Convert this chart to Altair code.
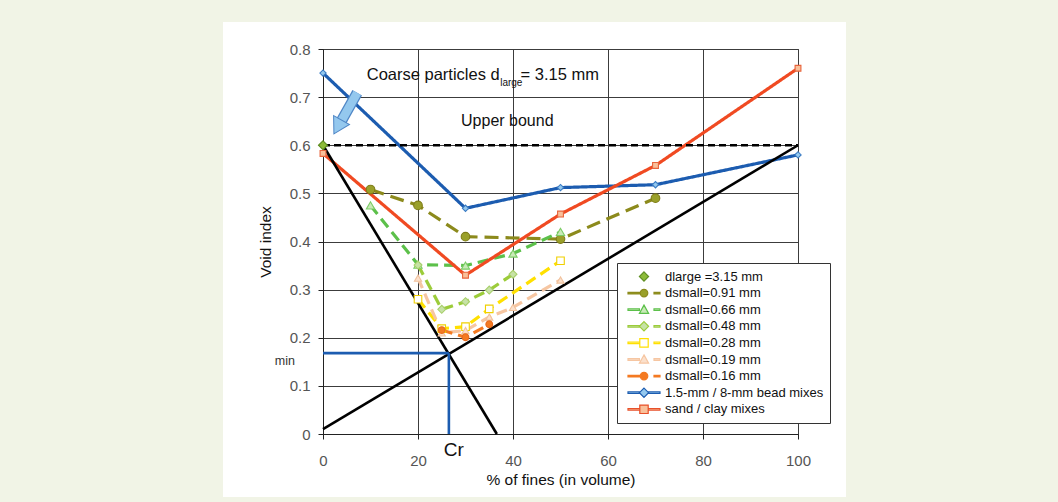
import altair as alt
import pandas as pd

# ---- series (x = % of fines, y = void index) ----
names = [
    "dlarge =3.15 mm",
    "dsmall=0.91 mm",
    "dsmall=0.66 mm",
    "dsmall=0.48 mm",
    "dsmall=0.28 mm",
    "dsmall=0.19 mm",
    "dsmall=0.16 mm",
    "1.5-mm / 8-mm bead mixes",
    "sand / clay mixes",
]

x_dlarge = [0]
y_dlarge = [0.6]
x_091 = [10, 20, 30, 50, 70]
y_091 = [0.508, 0.475, 0.41, 0.405, 0.49]
x_066 = [10, 20, 30, 40, 50]
y_066 = [0.475, 0.352, 0.35, 0.375, 0.42]
x_048 = [20, 25, 30, 35, 40]
y_048 = [0.351, 0.259, 0.275, 0.299, 0.332]
x_028 = [20, 25, 30, 35, 50]
y_028 = [0.28, 0.219, 0.223, 0.26, 0.36]
x_019 = [20, 25, 30, 35, 40, 50]
y_019 = [0.324, 0.21, 0.215, 0.243, 0.263, 0.32]
x_016 = [25, 30, 35]
y_016 = [0.216, 0.201, 0.228]
x_bead = [0, 30, 50, 70, 100]
y_bead = [0.75, 0.469, 0.512, 0.518, 0.58]
x_sand = [0, 30, 50, 70, 100]
y_sand = [0.583, 0.33, 0.457, 0.558, 0.76]

xs = [x_dlarge, x_091, x_066, x_048, x_028, x_019, x_016, x_bead, x_sand]
ys = [y_dlarge, y_091, y_066, y_048, y_028, y_019, y_016, y_bead, y_sand]

# construction lines
upper_bound = 0.6
coarse_x = [0, 36.6]
coarse_y = [0.6, 0.0]
fine_x = [0, 100]
fine_y = [0.01, 0.6]
cr_x = 26.5
e_min = 0.168

# block arrow pointing at the coarse-particle void index
arrow_x = [7.2, 3.9]
arrow_y = [0.709, 0.651]
arrow_head = (3.1, 0.638)

rows = []
for n, xv, yv in zip(names, xs, ys):
    for k, (a, b) in enumerate(zip(xv, yv)):
        rows.append({"series": n, "x": a, "y": b, "i": k})
pts = pd.DataFrame(rows)

dashed_names = names[1:7]
solid_names = names[7:]

# ---- styling ----
line_colors = ["#6aa12a", "#8c8a1c", "#5cc04a", "#9ccc3a", "#ffe000",
               "#f6c6a2", "#f47a22", "#1c5cb0", "#f04a22"]
dash_styles = [[1, 0], [14, 7], [11, 6], [11, 6], [11, 6],
               [11, 6], [11, 6], [1, 0], [1, 0]]
marker_shapes = ["diamond", "circle", "triangle-up", "diamond", "square",
                 "triangle-up", "circle", "diamond", "square"]
marker_fill = ["#8dbb3a", "#9aa02a", "#c9eab8", "#c7e2a6", "#ffffff",
               "#fbe0cc", "#f47a22", "#94c8ee", "#f9c09a"]
marker_stroke = ["#5f8f22", "#7f7d18", "#7ccc66", "#a7cf6a", "#f0d000",
                 "#f1c29d", "#e8681a", "#3b7cc4", "#e8643c"]
marker_size = [80, 34, 55, 55, 60, 55, 45, 50, 90]

# legend symbols: custom paths drawn in pixels, scaled to the symbol unit
SYM = 6.5  # half of sqrt(symbolSize)


def poly(*pairs):
    return "M" + "L".join(f"{a / SYM:.3f},{b / SYM:.3f}" for a, b in pairs) + "Z"


def bar(x0, x1, h=0.8):
    return poly((x0, -h), (x1, -h), (x1, h), (x0, h))


def circle(cx, r=3.8):
    a, b, rr = (cx + r) / SYM, (cx - r) / SYM, r / SYM
    return (f"M{a:.3f},0A{rr:.3f},{rr:.3f},0,1,1,{b:.3f},0"
            f"A{rr:.3f},{rr:.3f},0,1,1,{a:.3f},0Z")


def diamond(cx, r=4.6):
    return poly((cx, -r), (cx + r, 0), (cx, r), (cx - r, 0))


def square(cx, r=4.2):
    return poly((cx - r, -r), (cx + r, -r), (cx + r, r), (cx - r, r))


def triangle(cx, r=4.6):
    return poly((cx, -r), (cx + r, 0.8 * r), (cx - r, 0.8 * r))


MC = 13.5          # marker centre within the symbol
L0, L1 = -2.5, 29.5  # line extent
D0 = 23.5          # start of trailing dash

legend_shapes = [
    diamond(MC),
    bar(L0, MC - 3.8) + circle(MC) + bar(D0, L1),
    bar(L0, MC - 4.6) + triangle(MC) + bar(D0, L1),
    bar(L0, MC - 4.6) + diamond(MC) + bar(D0, L1),
    bar(L0, MC - 4.2) + square(MC) + bar(D0, L1),
    bar(L0, MC - 4.6) + triangle(MC) + bar(D0, L1),
    bar(L0, MC - 3.8) + circle(MC) + bar(D0, L1),
    bar(L0, MC - 4.6) + diamond(MC) + bar(MC + 4.6, L1),
    bar(L0, MC - 4.2) + square(MC) + bar(MC + 4.2, L1),
]
legend_stroke = ["#5f8f22", "#8c8a1c", "#5cc04a", "#9ccc3a", "#ffe000",
                 "#f6c6a2", "#f47a22", "#1c5cb0", "#e8502a"]

FONT = "Liberation Sans"
W, H = 475, 385
PAD_L, PAD_T = 323, 49

x_enc = alt.X(
    "x:Q",
    scale=alt.Scale(domain=[0, 100], nice=False),
    axis=alt.Axis(values=[0, 20, 40, 60, 80, 100], title="% of fines (in volume)",
                  labelPadding=14, labelFlush=False),
)
y_enc = alt.Y(
    "y:Q",
    scale=alt.Scale(domain=[0, 0.8], nice=False),
    axis=alt.Axis(values=[0, 0.1, 0.2, 0.3, 0.4, 0.5, 0.6, 0.7, 0.8],
                  title="Void index", labelPadding=8, titlePadding=16,
                  labelExpr="datum.value == 0 ? '0' : format(datum.value, '.1f')"),
)

color_scale = alt.Scale(domain=names, range=line_colors)
dash_scale = alt.Scale(domain=names, range=dash_styles)

# page frame around the white panel
frame = alt.Chart(pd.DataFrame({"k": [0]})).mark_rect(
    fill=None, stroke="#f1f4e6", strokeWidth=300
).encode(
    x=alt.value(-250), x2=alt.value(673), y=alt.value(-177), y2=alt.value(598)
)

dashed_lines = alt.Chart(pts[pts.series.isin(dashed_names)]).mark_line(
    strokeWidth=3.2
).encode(
    x=x_enc, y=y_enc,
    color=alt.Color("series:N", scale=color_scale, legend=None),
    strokeDash=alt.StrokeDash("series:N", scale=dash_scale, legend=None),
    order="i:Q",
)

solid_lines = alt.Chart(pts[pts.series.isin(solid_names)]).mark_line(
    strokeWidth=3.2
).encode(
    x=x_enc, y=y_enc,
    color=alt.Color("series:N", scale=color_scale, legend=None),
    strokeDash=alt.StrokeDash("series:N", scale=dash_scale, legend=None),
    order="i:Q",
)

# construction lines
guide_rows = []
for seg, (gx, gy) in {
    "coarse": (coarse_x, coarse_y),
    "fine": (fine_x, fine_y),
}.items():
    for k, (a, b) in enumerate(zip(gx, gy)):
        guide_rows.append({"seg": seg, "x": a, "y": b, "i": k})
guides = pd.DataFrame(guide_rows)

black_lines = alt.Chart(guides).mark_line(color="black", strokeWidth=2.6).encode(
    x=x_enc, y=y_enc, detail="seg:N", order="i:Q"
)

upper = alt.Chart(pd.DataFrame({"x": [0, 100], "y": [upper_bound, upper_bound]})).mark_line(
    color="black", strokeWidth=2.6, strokeDash=[7, 4]
).encode(x=x_enc, y=y_enc)

cr_rows = pd.DataFrame({
    "seg": ["h", "h", "v", "v"],
    "x": [0, cr_x, cr_x, cr_x],
    "y": [e_min, e_min, e_min, 0],
    "i": [0, 1, 0, 1],
})
cr_lines = alt.Chart(cr_rows).mark_line(color="#1c5cb0", strokeWidth=2.6).encode(
    x=x_enc, y=y_enc, detail="seg:N", order="i:Q"
)

# arrow
arrow_df = pd.DataFrame({"x": arrow_x, "y": arrow_y})
arrow_outline = alt.Chart(arrow_df).mark_line(
    color="#4f86c6", strokeWidth=11, strokeCap="butt"
).encode(x=x_enc, y=y_enc)
arrow_body = alt.Chart(arrow_df).mark_line(
    color="#94c8ee", strokeWidth=8.5, strokeCap="butt"
).encode(x=x_enc, y=y_enc)
arrow_tip = alt.Chart(pd.DataFrame({"x": [arrow_head[0]], "y": [arrow_head[1]]})).mark_point(
    shape="triangle-up", filled=True, fill="#94c8ee", stroke="#4f86c6",
    strokeWidth=1, size=330, angle=209, opacity=1
).encode(x=x_enc, y=y_enc)

# markers
markers = alt.Chart(pts).mark_point(filled=True, strokeWidth=1.1, opacity=1).encode(
    x=x_enc, y=y_enc,
    shape=alt.Shape("series:N", scale=alt.Scale(domain=names, range=marker_shapes), legend=None),
    fill=alt.Fill("series:N", scale=alt.Scale(domain=names, range=marker_fill), legend=None),
    stroke=alt.Stroke("series:N", scale=alt.Scale(domain=names, range=marker_stroke), legend=None),
    size=alt.Size("series:N", scale=alt.Scale(domain=names, range=marker_size), legend=None),
)

# legend entries (line + marker symbols)
legend = alt.Legend(
    title=None, orient="none", legendX=294, legendY=214,
    padding=6, strokeColor="#333333", fillColor="white",
    labelFont=FONT, labelFontSize=13, labelColor="#111111", labelLimit=400,
    symbolSize=(2 * SYM) ** 2, symbolStrokeWidth=1.2, symbolOpacity=1,
    rowPadding=1.6, labelOffset=27,
)
legend_layer = alt.Chart(pd.DataFrame({"series": names})).mark_point(
    filled=True, opacity=0, strokeWidth=1.2
).encode(
    shape=alt.Shape("series:N", scale=alt.Scale(domain=names, range=legend_shapes), legend=legend),
    fill=alt.Fill("series:N", scale=alt.Scale(domain=names, range=marker_fill), legend=legend),
    stroke=alt.Stroke("series:N", scale=alt.Scale(domain=names, range=legend_stroke), legend=legend),
)


# annotations
def label(text, x, y, size=16, align="left", dx=0, dy=0, color="#111111"):
    return alt.Chart(pd.DataFrame({"t": [text], "x": [x], "y": [y]})).mark_text(
        font=FONT, fontSize=size, align=align, baseline="middle", color=color,
        dx=dx, dy=dy
    ).encode(x=x_enc, y=y_enc, text="t:N")


texts = [
    label("Coarse particles d", 37.2, 0.746, size=16.5, align="right"),
    label("large", 37.3, 0.729, size=10),
    label("= 3.15 mm", 41.6, 0.746, size=16.5),
    label("Upper bound", 38.8, 0.651, align="center"),
    label("Cr", cr_x, 0, size=19, align="center", dx=5, dy=16),
    label("min", 0, e_min, size=12.5, align="right", dx=-28, dy=8, color="#333333"),
]

chart = alt.layer(
    frame, dashed_lines, solid_lines, black_lines, upper, cr_lines,
    arrow_outline, arrow_body, arrow_tip, markers, legend_layer, *texts
).resolve_scale(
    shape="independent", fill="independent", stroke="independent"
).properties(
    width=W, height=H,
    autosize=alt.AutoSizeParams(type="none"),
    padding={"left": PAD_L, "top": PAD_T, "right": 1058 - PAD_L - W, "bottom": 502 - PAD_T - H},
    background="white",
).configure_view(
    stroke="#333333", strokeWidth=1
).configure_axis(
    labelFont=FONT, labelFontSize=15, labelColor="#555555",
    titleFont=FONT, titleFontSize=15.5, titleColor="#111111", titleFontWeight="normal",
    grid=True, gridColor="#3c3c3c", gridWidth=1, gridOpacity=1,
    domainColor="#222222", tickColor="#222222", tickSize=5, tickWidth=1,
)

chart.save("out.html", embed_options={"renderer": "svg", "actions": False})
